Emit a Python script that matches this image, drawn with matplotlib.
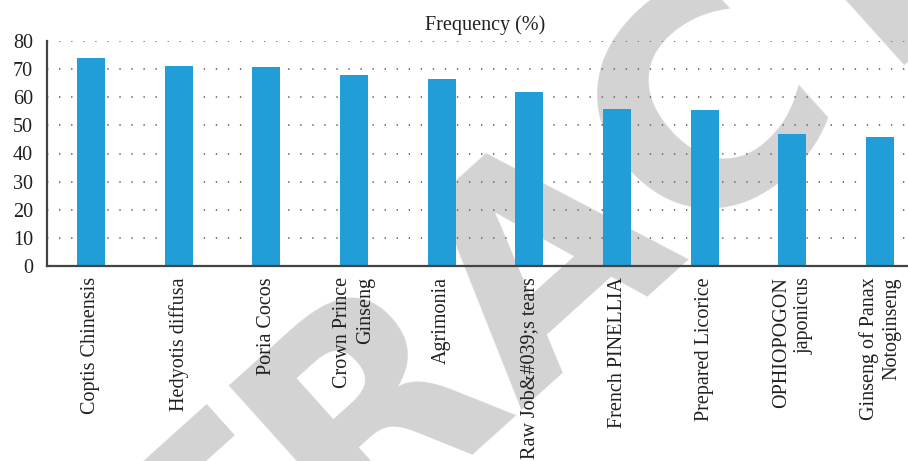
import numpy as np
import matplotlib
matplotlib.use("Agg")
import matplotlib.pyplot as plt

# herbs and their usage frequency (%)
herbs = ["Coptis Chinensis", "Hedyotis diffusa", "Poria Cocos",
         "Crown Prince\nGinseng", "Agrimonia", "Raw Job&#039;s tears",
         "French PINELLIA", "Prepared Licorice", "OPHIOPOGON\njaponicus",
         "Ginseng of Panax\nNotoginseng"]
freq = [74.0, 71.1, 70.7, 67.9, 66.5, 61.9, 55.8, 55.5, 46.9, 45.9]
yticks = [0, 10, 20, 30, 40, 50, 60, 70, 80]

plt.rcParams['font.family'] = ['Liberation Serif', 'DejaVu Serif']

fig = plt.figure(figsize=(9.08, 4.61), dpi=100)

# grey watermark behind the chart (baseline start lies off the canvas)
fig.text(-122 / 908, 1 - 965 / 461, "RETRACTED", family="DejaVu Sans",
         fontweight="bold", fontsize=212, color="#d3d3d3", rotation=42,
         rotation_mode="anchor", ha="left", va="baseline", zorder=0)

ax = fig.add_axes([47 / 908, 1 - 266 / 461, 877 / 908, 225 / 461])
ax.set_zorder(1)
ax.patch.set_alpha(0)

x = np.arange(len(herbs))
ax.bar(x, freq, width=0.32, color="#219dd8", zorder=3)

ax.set_xlim(-0.5, len(herbs) - 0.5)
ax.set_ylim(0, 80)
ax.set_yticks(yticks)
ax.set_xticks(x)
ax.set_xticklabels(herbs, rotation=90, ha="center", va="top",
                   multialignment="right", linespacing=1.25)

ax.yaxis.grid(True, color="#7a7a7a", linewidth=1.4,
              linestyle=(0, (0.7, 5.5)), zorder=1)
ax.set_axisbelow(False)

for s in ["top", "right"]:
    ax.spines[s].set_visible(False)
for s in ["left", "bottom"]:
    ax.spines[s].set_color("#444444")
    ax.spines[s].set_linewidth(1.6)
    ax.spines[s].set_zorder(4)

ax.tick_params(axis="both", length=0, labelsize=14.5, colors="#231f20")
ax.tick_params(axis="y", pad=10)
ax.tick_params(axis="x", pad=8)

ax.set_title("Frequency (%)", fontsize=14.5, color="#231f20", pad=8)

fig.savefig("out.png", dpi=100)
